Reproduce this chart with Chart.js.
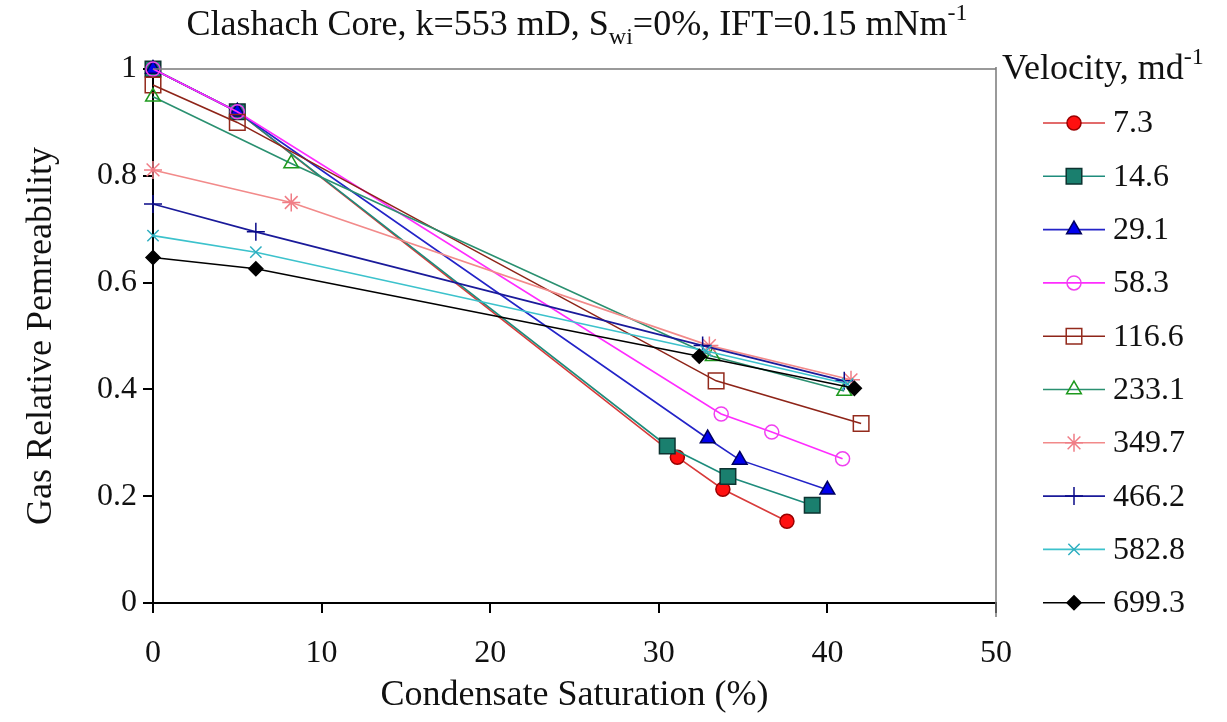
<!DOCTYPE html>
<html>
<head>
<meta charset="utf-8">
<script src="https://cdn.jsdelivr.net/npm/chart.js@4/dist/chart.umd.min.js"></script>
<style>
  html, body { margin: 0; padding: 0; background: #fff; }
  #wrap { width: 1227px; height: 722px; }
</style>
</head>
<body>
<div id="wrap"><canvas id="krg" width="1227" height="722"></canvas></div>
<script>
// Gas rel-perm vs condensate saturation, one series per velocity (md^-1).
const velocities = ["7.3", "14.6", "29.1", "58.3", "116.6", "233.1", "349.7", "466.2", "582.8", "699.3"];

const sat_7_3 = [0, 5.0, 31.1, 33.8, 37.6];
const krg_7_3 = [1.0, 0.92, 0.273, 0.213, 0.153];
const sat_14_6 = [0, 5.0, 30.5, 34.1, 39.1];
const krg_14_6 = [1.0, 0.92, 0.294, 0.237, 0.183];
const sat_29_1 = [0, 5.0, 32.9, 34.8, 40.0];
const krg_29_1 = [1.0, 0.92, 0.308, 0.268, 0.212];
const sat_58_3 = [0, 5.0, 33.7, 36.7, 40.9];
const krg_58_3 = [1.0, 0.92, 0.354, 0.32, 0.27];
const sat_116_6 = [0, 5.0, 33.4, 42.0];
const krg_116_6 = [0.97, 0.90, 0.416, 0.336];
const sat_233_1 = [0, 8.2, 33.2, 41.0];
const krg_233_1 = [0.948, 0.823, 0.462, 0.397];
const sat_349_7 = [0, 8.2, 33.0, 41.4];
const krg_349_7 = [0.811, 0.75, 0.482, 0.418];
const sat_466_2 = [0, 6.1, 32.6, 41.0];
const krg_466_2 = [0.747, 0.695, 0.482, 0.416];
const sat_582_8 = [0, 6.1, 32.8, 41.2];
const krg_582_8 = [0.688, 0.657, 0.472, 0.41];
const sat_699_3 = [0, 6.1, 32.4, 41.6];
const krg_699_3 = [0.647, 0.626, 0.462, 0.402];

const satSeries = [sat_7_3, sat_14_6, sat_29_1, sat_58_3, sat_116_6, sat_233_1, sat_349_7, sat_466_2, sat_582_8, sat_699_3];
const krgSeries = [krg_7_3, krg_14_6, krg_29_1, krg_58_3, krg_116_6, krg_233_1, krg_349_7, krg_466_2, krg_582_8, krg_699_3];

const xTicks = [0, 10, 20, 30, 40, 50];
const yTicks = [0, 0.2, 0.4, 0.6, 0.8, 1];

const SERIF = "'Liberation Serif', 'Times New Roman', serif";
const INK = "#111";

// Excel-ish marker styles, one per velocity
const STYLES = [
  { line: "#d83a3a", fill: "#ff1010", edge: "#9a0000", shape: "circle", r: 7 },
  { line: "#1e8c7c", fill: "#1a7f6e", edge: "#0d3330", shape: "rect", r: 11 },
  { line: "#2323c8", fill: "#0000ee", edge: "#000060", shape: "triangle", r: 8.5 },
  { line: "#ff2cff", fill: "transparent", edge: "#f040f0", shape: "circle", r: 7 },
  { line: "#8e2418", fill: "transparent", edge: "#932a1c", shape: "rect", r: 11 },
  { line: "#2a9070", fill: "transparent", edge: "#1e9a1e", shape: "triangle", r: 8.5 },
  { line: "#f28a8a", fill: "transparent", edge: "#f07d86", shape: "star", r: 9 },
  { line: "#1a1a9a", fill: "transparent", edge: "#0a0a88", shape: "cross", r: 9 },
  { line: "#3cc2cc", fill: "transparent", edge: "#2eaec0", shape: "crossRot", r: 8 },
  { line: "#000000", fill: "#000000", edge: "#000000", shape: "rectRot", r: 7 },
];

const datasets = velocities.map((v, i) => ({
  label: v,
  data: satSeries[i].map((x, j) => ({ x, y: krgSeries[i][j] })),
  showLine: true,
  borderColor: STYLES[i].line,
  borderWidth: 1.6,
  pointStyle: STYLES[i].shape,
  pointRadius: STYLES[i].r,
  pointBackgroundColor: STYLES[i].fill,
  pointBorderColor: STYLES[i].edge,
  pointBorderWidth: 1.5,
  clip: false,
  order: velocities.length - i, // later series drawn on top, like Excel
}));

// draw a run of text with sub/superscript pieces
function richText(ctx, parts, x, y, size, align) {
  const fontFor = (p) => `${p.mode === "n" ? size : Math.round(size * 0.68)}px ${SERIF}`;
  let total = 0;
  for (const p of parts) { ctx.font = fontFor(p); total += ctx.measureText(p.t).width; }
  let cx = align === "center" ? x - total / 2 : x;
  ctx.textAlign = "left";
  ctx.textBaseline = "middle";
  ctx.fillStyle = INK;
  for (const p of parts) {
    ctx.font = fontFor(p);
    const dy = p.mode === "sub" ? size * 0.32 : p.mode === "sup" ? -size * 0.33 : 0;
    ctx.fillText(p.t, cx, y + dy);
    cx += ctx.measureText(p.t).width;
  }
}

const extras = {
  id: "extras",
  afterDraw(chart) {
    const ctx = chart.ctx;
    const a = chart.chartArea;
    ctx.save();
    // grey frame on top/right of plot area
    ctx.strokeStyle = "#7a7a7a";
    ctx.lineWidth = 1.5;
    ctx.beginPath();
    ctx.moveTo(a.left, a.top);
    ctx.lineTo(a.right, a.top);
    ctx.moveTo(a.right, a.top - 2);
    ctx.lineTo(a.right, a.bottom + 14);
    ctx.stroke();

    // title
    richText(ctx, [
      { t: "Clashach Core, k=553 mD, S", mode: "n" },
      { t: "wi", mode: "sub" },
      { t: "=0%, IFT=0.15 mNm", mode: "n" },
      { t: "-1", mode: "sup" },
    ], 577, 26, 36, "center");

    // legend
    richText(ctx, [
      { t: "Velocity, md", mode: "n" },
      { t: "-1", mode: "sup" },
    ], 1002, 70, 36, "left");

    const rowTop = 123, rowStep = 53.3;
    const lx0 = 1043, lx1 = 1105, mx = 1074;
    chart.data.datasets.forEach((ds, i) => {
      const y = rowTop + i * rowStep;
      ctx.strokeStyle = ds.borderColor;
      ctx.lineWidth = 1.6;
      ctx.beginPath();
      ctx.moveTo(lx0, y);
      ctx.lineTo(lx1, y);
      ctx.stroke();
      ctx.fillStyle = ds.pointBackgroundColor;
      ctx.strokeStyle = ds.pointBorderColor;
      ctx.lineWidth = 1.5;
      Chart.helpers.drawPoint(ctx, {
        pointStyle: ds.pointStyle,
        radius: ds.pointRadius,
        rotation: 0,
        borderWidth: 1.5,
      }, mx, y);
      ctx.font = `32px ${SERIF}`;
      ctx.fillStyle = INK;
      ctx.textAlign = "left";
      ctx.textBaseline = "middle";
      ctx.fillText(ds.label, 1113, y + 1);
    });
    ctx.restore();
  },
};

new Chart(document.getElementById("krg"), {
  type: "scatter",
  data: { datasets },
  plugins: [extras],
  options: {
    responsive: false,
    animation: false,
    devicePixelRatio: 1,
    layout: { padding: { left: 0, top: 69, right: 231, bottom: 0 } },
    plugins: { legend: { display: false }, tooltip: { enabled: false } },
    scales: {
      x: {
        type: "linear",
        min: 0,
        max: 50,
        afterBuildTicks: (s) => { s.ticks = xTicks.map((v) => ({ value: v })); },
        afterFit: (s) => { s.height = 119; },
        grid: { drawOnChartArea: false, drawTicks: true, tickLength: 10, color: "#000", lineWidth: 2 },
        border: { display: true, color: "#000", width: 2 },
        ticks: { color: INK, font: { family: SERIF, size: 32 }, padding: 21, maxRotation: 0 },
        title: {
          display: true,
          text: "Condensate Saturation (%)",
          color: INK,
          font: { family: SERIF, size: 36 },
          padding: { top: 0, bottom: 5 },
        },
      },
      y: {
        type: "linear",
        min: 0,
        max: 1,
        afterBuildTicks: (s) => { s.ticks = yTicks.map((v) => ({ value: v })); },
        afterFit: (s) => { s.width = 153; },
        grid: { drawOnChartArea: false, drawTicks: true, tickLength: 10, color: "#000", lineWidth: 2 },
        border: { display: true, color: "#000", width: 2 },
        ticks: {
          color: INK,
          font: { family: SERIF, size: 32 },
          padding: 6,
          callback: (v) => String(+Number(v).toFixed(1)),
        },
        title: {
          display: true,
          text: "Gas Relative Pemreability",
          color: INK,
          font: { family: SERIF, size: 36 },
          padding: { top: 20, bottom: 0 },
        },
      },
    },
  },
});
</script>
</body>
</html>
